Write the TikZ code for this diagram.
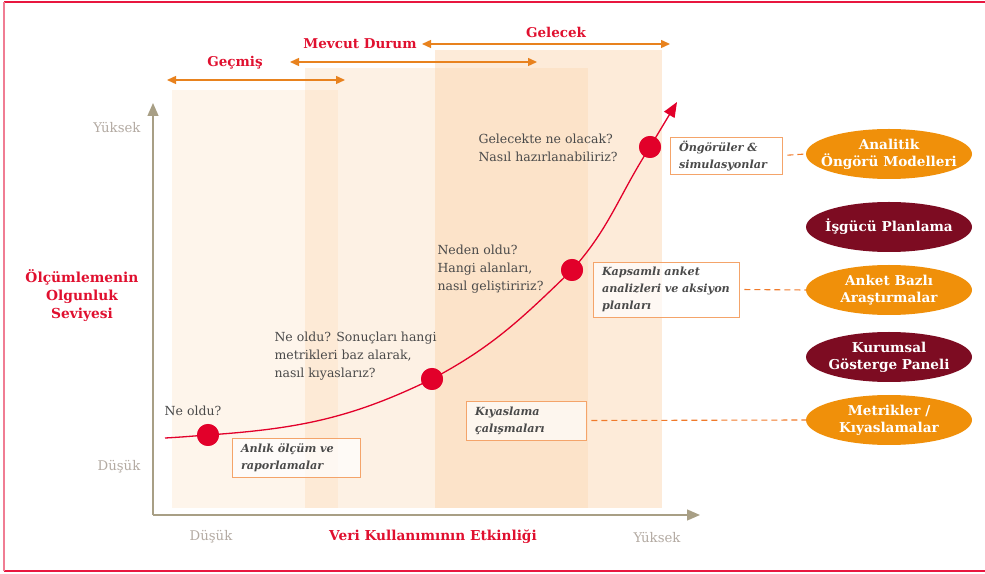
\documentclass[tikz,border=0pt]{standalone}
\usepackage{fontspec}
\setmainfont{DejaVu Serif}
\usetikzlibrary{arrows.meta,positioning,shapes.geometric}
\definecolor{framered}{HTML}{E8173F}
\definecolor{framepink}{HTML}{F07D93}
\definecolor{titlered}{HTML}{E0102F}
\definecolor{curvered}{HTML}{E2002A}
\definecolor{spanorange}{HTML}{E8821E}
\definecolor{axisgray}{HTML}{A89F85}
\definecolor{labelgray}{HTML}{B3AAA2}
\definecolor{textgray}{HTML}{4A4A4A}
\definecolor{tagorange}{HTML}{F4A46A}
\definecolor{linkorange}{HTML}{F07A2A}
\definecolor{peach}{HTML}{FAD0A4}
\definecolor{pillorange}{HTML}{F0900A}
\definecolor{pillmaroon}{HTML}{7D0C22}

\begin{document}
\begin{tikzpicture}[x=1pt, y=1pt,
    font=\fontsize{12.5}{18}\selectfont,
    band/.style={fill=peach, draw=none},
    span/.style={{Triangle[length=9pt,width=8pt]}-{Triangle[length=9pt,width=8pt]}, line width=1.4pt, spanorange},
    hd/.style={font=\fontsize{13.5}{15}\selectfont\bfseries, text=titlered},
    axis/.style={-{Triangle[length=13pt,width=11pt]}, line width=1.3pt, axisgray},
    lvl/.style={text=labelgray, font=\fontsize{13.3}{15}\selectfont},
    dot/.style={circle, fill=curvered, minimum size=22pt, inner sep=0pt},
    q/.style={align=left, text=textgray},
    tag/.style={draw=tagorange, line width=0.8pt, fill=white, fill opacity=.7, text opacity=1,
      align=left, text=textgray, inner xsep=9pt, inner ysep=0pt,
      font=\fontsize{11.2}{17}\selectfont\bfseries\itshape},
    pill/.style={ellipse, minimum width=166pt, minimum height=50pt, inner xsep=-12pt, inner ysep=-2pt,
      text=white, align=center, font=\fontsize{13.6}{17}\selectfont\bfseries},
    link/.style={dashed, dash pattern=on 6pt off 4pt, line width=1.1pt, linkorange, shorten <=5pt}
  ]
    \useasboundingbox (0,0) rectangle (985,573);
    \draw[framered, line width=1.5pt] (4,571) -- (985,571);
    \draw[framered, line width=1.5pt] (4,2) -- (985,2);
    \draw[framepink, line width=1.5pt] (4,2) -- (4,571);

    % time bands
    \fill[band, fill opacity=.22] (172,65) rectangle (338,483);
    \fill[band, fill opacity=.30] (305,65) rectangle (588,505);
    \fill[band, fill opacity=.42] (435,65) rectangle (662,523);

    \coordinate (g0) at (167,493);  \coordinate (g1) at (345,493);
    \coordinate (m0) at (290,511);  \coordinate (m1) at (537,511);
    \coordinate (f0) at (422,529);  \coordinate (f1) at (670,529);
    \draw[span] (g0) -- (g1);
    \draw[span] (m0) -- (m1);
    \draw[span] (f0) -- (f1);
    \node[hd] (past) at (235,510) {Geçmiş};
    \node[hd] (now) at (360,529) {Mevcut Durum};
    \node[hd] (future) at (556,541) {Gelecek};

    % axes
    \coordinate (o) at (153,58);
    \coordinate (ytop) at (153,470);
    \coordinate (xend) at (700,58);
    \draw[axis] (o) -- (ytop);
    \draw[axis] (o) -- (xend);
    \node[lvl] (yhi) at (117,445) {Yüksek};
    \node[lvl] (ylo) at (119,106) {Düşük};
    \node[lvl] (xlo) at (211,36) {Düşük};
    \node[lvl] (xhi) at (657,36) {Yüksek};
    \node[hd, font=\fontsize{13.7}{15}\selectfont\bfseries] (xt) at (433,36) {Veri Kullanımının Etkinliği};
    \node[hd, align=center, font=\fontsize{13.8}{18}\selectfont\bfseries] (yt) at (82,277) {Ölçümlemenin\\Olgunluk\\Seviyesi};

    % maturity curve
    \coordinate (c0) at (165,135);
    \coordinate (tip) at (677,471);
    \node[dot] (d1) at (208,138) {};
    \node[dot] (d2) at (432,194) {};
    \node[dot] (d3) at (572,303) {};
    \node[dot] (d4) at (650,426) {};
    \draw[curvered, line width=1.3pt, -{Triangle[length=15pt,width=12pt]}]
      (c0) to[out=3,in=184] (d1.center) to[out=4,in=206] (d2.center)
      to[out=28,in=224] (d3.center) to[out=48,in=237] (d4.center) -- (tip);
    \foreach \d in {d1,d2,d3,d4} \node[dot] at (\d) {};

    \node[q] (q1) at (193,162) {Ne oldu?};
    \node[q, anchor=west] (q2) at (271,217) {Ne oldu? Sonuçları hangi\\metrikleri baz alarak,\\nasıl kıyaslarız?};
    \node[q, anchor=west] (q3) at (434,304) {Neden oldu?\\Hangi alanları,\\nasıl geliştiririz?};
    \node[q, anchor=west] (q4) at (475,425) {Gelecekte ne olacak?\\Nasıl hazırlanabiliriz?};

    % practices
    \node[tag, minimum width=128pt, minimum height=39pt, text width=110pt] (b1) at (296,115.5) {Anlık ölçüm ve\\raporlamalar};
    \node[tag, minimum width=120pt, minimum height=39pt, text width=102pt] (b2) at (526,152.5) {Kıyaslama\\çalışmaları};
    \node[tag, minimum width=146pt, minimum height=55pt, text width=128pt] (b3) at (666,283.5) {Kapsamlı anket\\analizleri ve aksiyon\\planları};
    \node[tag, minimum width=112pt, minimum height=37pt, text width=94pt] (b4) at (726,417.5) {Öngörüler \&\\simulasyonlar};

    % tools
    \node[pill, fill=pillorange] (e1) at (889,419) {Analitik\\Öngörü Modelleri};
    \node[pill, fill=pillmaroon] (e2) at (889,346) {İşgücü Planlama};
    \node[pill, fill=pillorange] (e3) at (889,283) {Anket Bazlı\\Araştırmalar};
    \node[pill, fill=pillmaroon] (e4) at (889,216) {Kurumsal\\Gösterge Paneli};
    \node[pill, fill=pillorange] (e5) at (889,153) {Metrikler /\\Kıyaslamalar};

    \draw[link] (b4.east) -- (e1.west);
    \draw[link] (b3.east) -- (e3.west);
    \draw[link] (b2.east) -- (e5.west);
\end{tikzpicture}
\end{document}
